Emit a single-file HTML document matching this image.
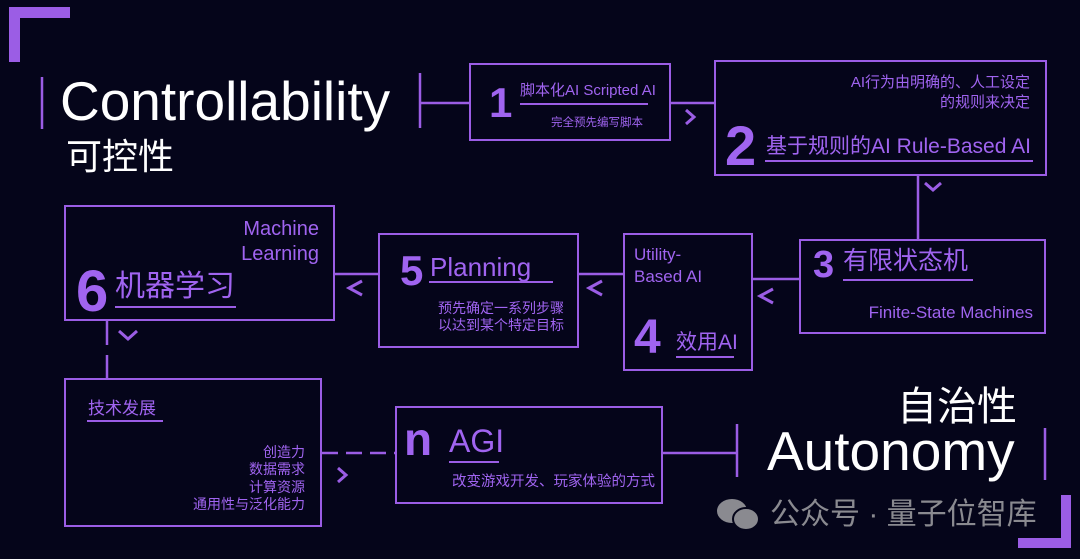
<!DOCTYPE html>
<html><head><meta charset="utf-8"><style>
*{margin:0;padding:0;box-sizing:border-box}
body{width:1080px;height:559px;background:#05051a;position:relative;overflow:hidden;font-family:"Liberation Sans","Noto Sans CJK SC",sans-serif;color:#a064f0}
.t{position:absolute;white-space:nowrap;line-height:1}
.r{text-align:right}
.b{font-weight:bold}
.box{position:absolute;border:2.5px solid #9b5de5}
.w{color:#fff}
.u{position:absolute;height:2px;background:#9b5de5}
</style></head><body>
<svg width="1080" height="559" style="position:absolute;left:0;top:0" fill="none" stroke="#9b5de5" stroke-width="2.5">
<path d="M9 7H70V18H20V62H9Z" fill="#9b5de5" stroke="none"/>
<path d="M1018 538H1061V495H1071V548H1018Z" fill="#9b5de5" stroke="none"/>
<line x1="42" y1="77" x2="42" y2="129"/>
<line x1="420" y1="73" x2="420" y2="128"/>
<line x1="420" y1="103" x2="470" y2="103"/>
<line x1="670" y1="103" x2="714" y2="103"/>
<g stroke-width="3">
<polyline points="686,110 694,117 686,124"/>
<polyline points="925,183 933,190 941,183"/>
<polyline points="773,289 760,296 773,303"/>
<polyline points="602,281 589,288 602,295"/>
<polyline points="362,281 349,288 362,295"/>
<polyline points="119,331 128,339 137,331"/>
<polyline points="338,468 346,475 338,482"/>
</g>
<line x1="918" y1="176" x2="918" y2="240"/>
<line x1="753" y1="279" x2="799" y2="279"/>
<line x1="579" y1="274" x2="623" y2="274"/>
<line x1="335" y1="274" x2="378" y2="274"/>
<line x1="107" y1="321" x2="107" y2="378" stroke-dasharray="24 10"/>
<line x1="322" y1="453" x2="395" y2="453" stroke-dasharray="16 8"/>
<line x1="663" y1="453" x2="737" y2="453"/>
<line x1="737" y1="424" x2="737" y2="477"/>
<line x1="1045" y1="428" x2="1045" y2="480"/>
</svg>

<div class="t w" style="left:60px;top:74px;font-size:55px">Controllability</div>
<div class="t w" style="left:66px;top:139px;font-size:36px">可控性</div>

<div class="box" style="left:469px;top:63px;width:202px;height:78px"></div>
<div class="t b" style="left:489px;top:82px;font-size:42px">1</div>
<div class="t" style="left:520px;top:83px;font-size:15px">脚本化AI Scripted AI</div>
<div class="u" style="left:520px;top:103px;width:128px"></div>
<div class="t" style="left:551px;top:118px;font-size:11.5px">完全预先编写脚本</div>

<div class="box" style="left:714px;top:60px;width:333px;height:116px"></div>
<div class="t r" style="right:50px;top:75px;font-size:15px">AI行为由明确的、人工设定</div>
<div class="t r" style="right:50px;top:95px;font-size:15px">的规则来决定</div>
<div class="t b" style="left:725px;top:118px;font-size:56px">2</div>
<div class="t" style="left:766px;top:136px;font-size:21px">基于规则的AI Rule-Based AI</div>
<div class="u" style="left:765px;top:160px;width:268px"></div>

<div class="box" style="left:799px;top:239px;width:247px;height:95px"></div>
<div class="t b" style="left:813px;top:246px;font-size:38px">3</div>
<div class="t" style="left:843px;top:249px;font-size:25px">有限状态机</div>
<div class="u" style="left:843px;top:279px;width:130px"></div>
<div class="t r" style="right:47px;top:304px;font-size:17px">Finite-State Machines</div>

<div class="box" style="left:623px;top:233px;width:130px;height:138px"></div>
<div class="t" style="left:634px;top:246px;font-size:17px">Utility-</div>
<div class="t" style="left:634px;top:268px;font-size:17px">Based AI</div>
<div class="t b" style="left:634px;top:314px;font-size:48px">4</div>
<div class="t" style="left:676px;top:332px;font-size:21px">效用AI</div>
<div class="u" style="left:676px;top:356px;width:58px"></div>

<div class="box" style="left:378px;top:233px;width:201px;height:115px"></div>
<div class="t b" style="left:400px;top:250px;font-size:42px">5</div>
<div class="t" style="left:430px;top:254px;font-size:26px">Planning</div>
<div class="u" style="left:429px;top:281px;width:124px"></div>
<div class="t r" style="right:516px;top:301px;font-size:14px">预先确定一系列步骤</div>
<div class="t r" style="right:516px;top:318px;font-size:14px">以达到某个特定目标</div>

<div class="box" style="left:64px;top:205px;width:271px;height:116px"></div>
<div class="t r" style="right:761px;top:219px;font-size:20px">Machine</div>
<div class="t r" style="right:761px;top:244px;font-size:20px">Learning</div>
<div class="t b" style="left:76px;top:263px;font-size:58px">6</div>
<div class="t" style="left:115px;top:272px;font-size:30px">机器学习</div>
<div class="u" style="left:115px;top:306px;width:121px"></div>

<div class="box" style="left:64px;top:378px;width:258px;height:149px"></div>
<div class="t" style="left:88px;top:400px;font-size:17px">技术发展</div>
<div class="u" style="left:87px;top:420px;width:76px"></div>
<div class="t r" style="right:775px;top:445px;font-size:14px">创造力</div>
<div class="t r" style="right:775px;top:462px;font-size:14px">数据需求</div>
<div class="t r" style="right:775px;top:480px;font-size:14px">计算资源</div>
<div class="t r" style="right:775px;top:497px;font-size:14px">通用性与泛化能力</div>

<div class="box" style="left:395px;top:406px;width:268px;height:98px"></div>
<div class="t b" style="left:404px;top:416px;font-size:46px">n</div>
<div class="t" style="left:449px;top:425px;font-size:32px">AGI</div>
<div class="u" style="left:449px;top:461px;width:50px"></div>
<div class="t" style="left:452px;top:475px;font-size:14.5px">改变游戏开发、玩家体验的方式</div>

<div class="t w" style="left:897px;top:387px;font-size:40px">自治性</div>
<div class="t w" style="left:767px;top:424px;font-size:55px">Autonomy</div>

<svg width="46" height="36" style="position:absolute;left:716px;top:497px" fill="#8a8a90">
<ellipse cx="16" cy="14" rx="15" ry="12"/><ellipse cx="30" cy="22" rx="13" ry="11" stroke="#05051a" stroke-width="2"/>
</svg>
<div class="t" style="left:770px;top:500px;font-size:30px;color:#8a8a90">公众号 · 量子位智库</div>
</body></html>
